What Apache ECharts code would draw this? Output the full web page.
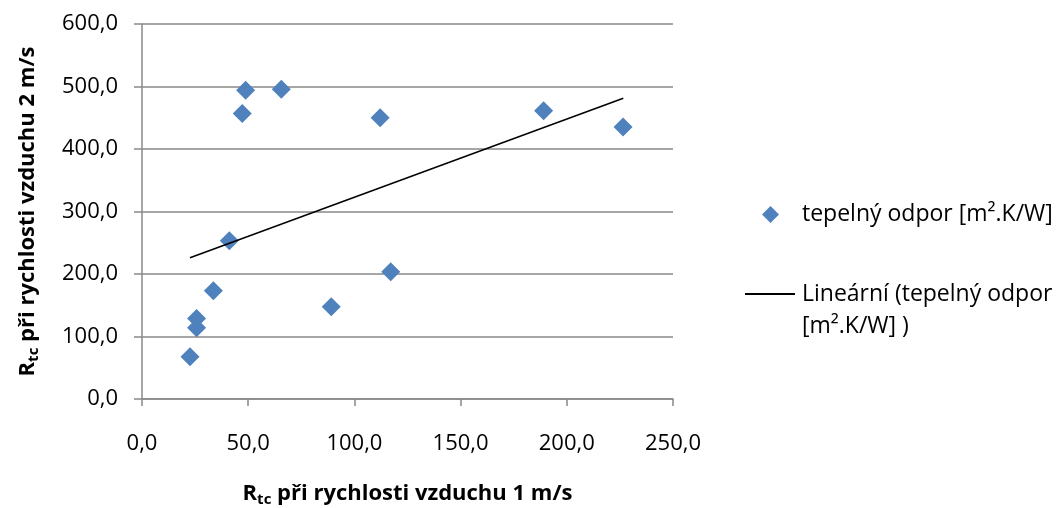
<!DOCTYPE html>
<html>
<head>
<meta charset="utf-8">
<script src="https://cdn.jsdelivr.net/npm/echarts@6/dist/echarts.min.js"></script>
<style>
html,body{margin:0;padding:0;background:#fff;}
#c{width:1062px;height:508px;}
</style>
</head>
<body>
<div id="c"></div>
<script>
const seriesName = 'tepelný odpor [m².K/W]';
const trendName = 'Lineární (tepelný odpor\n[m².K/W] )';
const xValues = [22.6, 25.7, 25.7, 33.6, 41.1, 47.2, 48.8, 65.6, 89.1, 112.1, 117.1, 189.1, 226.5];
const yValues = [67.7, 114.0, 129.0, 173.3, 253.3, 457.0, 494.0, 495.5, 147.7, 450.0, 203.7, 461.3, 435.2];
const trendX = [22.6, 226.6];
const trendY = [226.1, 481.1];
const xTicks = {min: 0, max: 250, interval: 50};
const yTicks = {min: 0, max: 600, interval: 100};
const xTitle = 'při rychlosti vzduchu 1 m/s';
const yTitle = 'při rychlosti vzduchu 2 m/s';

const FONT = '"Open Sans", "Noto Sans", sans-serif';
const fmt = v => v.toFixed(1).replace('.', ',');
const gray = '#898989';

const chart = echarts.init(document.getElementById('c'), null, {renderer: 'canvas'});
const titleRich = {
  a: {fontFamily: FONT, fontSize: 22, fontWeight: 'bold', color: '#000'},
  s: {fontFamily: FONT, fontSize: 15, fontWeight: 'bold', color: '#000', padding: [11, 0, 0, 0]}
};
chart.setOption({
  animation: false,
  backgroundColor: '#fff',
  grid: {left: 142, right: 389, top: 24, bottom: 109, containLabel: false, outerBoundsMode: 'none'},
  xAxis: {
    type: 'value', min: xTicks.min, max: xTicks.max, interval: xTicks.interval,
    name: '{a|R}{s|tc}{a| ' + xTitle + '}',
    nameLocation: 'middle', nameGap: 82,
    nameTextStyle: {rich: titleRich},
    axisLine: {show: true, onZero: false, lineStyle: {color: gray, width: 1.5}},
    axisTick: {show: true, inside: false, length: 7, lineStyle: {color: gray, width: 1.5}},
    axisLabel: {formatter: fmt, fontFamily: FONT, fontSize: 22, color: '#000', margin: 34},
    splitLine: {show: false}
  },
  yAxis: {
    type: 'value', min: yTicks.min, max: yTicks.max, interval: yTicks.interval,
    name: '{a|R}{s|tc}{a| ' + yTitle + '}',
    nameLocation: 'middle', nameGap: 101, nameRotate: 90,
    nameTextStyle: {rich: titleRich},
    axisLine: {show: true, onZero: false, lineStyle: {color: gray, width: 1.5}},
    axisTick: {show: true, inside: false, length: 8, lineStyle: {color: gray, width: 1.5}},
    axisLabel: {formatter: fmt, fontFamily: FONT, fontSize: 22, color: '#000', margin: 24},
    splitLine: {show: true, lineStyle: {color: gray, width: 1.5}}
  },
  legend: [
    {
      data: [{name: seriesName, icon: 'diamond'}],
      left: 762, top: 203, padding: 0,
      itemWidth: 17, itemHeight: 17,
      textStyle: {fontFamily: FONT, fontSize: 23, color: '#000', padding: [0, 0, 0, 18]},
      selectedMode: false
    },
    {
      data: [{name: trendName, icon: 'rect'}],
      left: 745, top: 246, padding: 0,
      itemWidth: 50, itemHeight: 2,
      formatter: name => ' \n' + name,
      textStyle: {fontFamily: FONT, fontSize: 23, color: '#000', lineHeight: 32, padding: [0, 0, 0, 2]},
      selectedMode: false
    }
  ],
  series: [
    {
      name: seriesName, type: 'scatter', symbol: 'diamond', symbolSize: 19,
      itemStyle: {color: '#4F81BD', opacity: 1},
      data: xValues.map((x, i) => [x, yValues[i]]),
      z: 3
    },
    {
      name: trendName, type: 'line', showSymbol: false, symbol: 'none',
      lineStyle: {color: '#000', width: 1.5},
      itemStyle: {color: '#000'},
      data: trendX.map((x, i) => [x, trendY[i]]),
      z: 4
    }
  ]
});
</script>
</body>
</html>
